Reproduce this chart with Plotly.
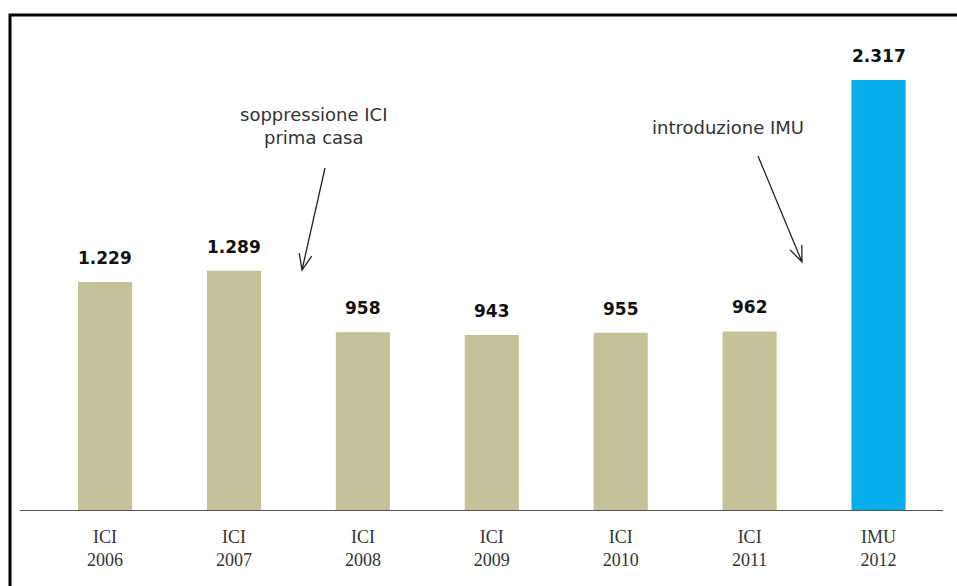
import numpy as np
import plotly.graph_objects as go

categories = ['ICI 2006', 'ICI 2007', 'ICI 2008', 'ICI 2009', 'ICI 2010', 'ICI 2011', 'IMU 2012']
tick_labels = ['ICI<br>2006', 'ICI<br>2007', 'ICI<br>2008', 'ICI<br>2009', 'ICI<br>2010', 'ICI<br>2011', 'IMU<br>2012']
gettito = [1229, 1289, 958, 943, 955, 962, 2317]
value_labels = ['1.229', '1.289', '958', '943', '955', '962', '2.317']
bar_colors = ['#c5c29a'] * 6 + ['#0aaeea']

W, H = 957, 586
L, R, T, B = 20, 14, 20, 76
X_RANGE = [-0.66, 6.5]
Y_RANGE = [0, 2640]
pw, ph = W - L - R, H - T - B


def to_data(px, py):
    # px, py measured on the reference picture
    x = X_RANGE[0] + (px - L) / pw * (X_RANGE[1] - X_RANGE[0])
    y = Y_RANGE[0] + (H - B - py) / ph * (Y_RANGE[1] - Y_RANGE[0])
    return x, y


def arrow_path(tail, head, wing=17, spread=22):
    # open "V" arrow, built in pixel space then mapped to axis units
    tx, ty = tail
    hx, hy = head
    ang = np.arctan2(ty - hy, tx - hx)
    pts = [tail, head]
    for s in (-1, 1):
        a = ang + np.radians(spread) * s
        pts.append((hx + wing * np.cos(a), hy + wing * np.sin(a)))
    d = [to_data(*p) for p in pts]
    return (f"M {d[0][0]},{d[0][1]} L {d[1][0]},{d[1][1]} "
            f"M {d[2][0]},{d[2][1]} L {d[1][0]},{d[1][1]} L {d[3][0]},{d[3][1]}")


fig = go.Figure(go.Bar(
    x=list(range(len(categories))),
    y=gettito,
    width=0.42,
    marker=dict(color=bar_colors, line=dict(width=0)),
    hovertext=categories,
))

for i, (v, lab) in enumerate(zip(gettito, value_labels)):
    fig.add_annotation(x=i, y=v, text=f"<b>{lab}</b>", showarrow=False,
                       yanchor='bottom', yshift=12,
                       font=dict(family='DejaVu Sans', size=17, color='#111'))

note_font = dict(family='DejaVu Sans', size=18, color='#333')
x1, y1 = to_data(313, 126)
fig.add_annotation(x=x1, y=y1, text='soppressione ICI<br>prima casa', showarrow=False,
                   font=note_font, align='center')
x2, y2 = to_data(728, 127)
fig.add_annotation(x=x2, y=y2, text='introduzione IMU', showarrow=False, font=note_font)

for tail, head in [((325, 168), (302, 270)), ((758, 156), (802, 262))]:
    fig.add_shape(type='path', xref='x', yref='y', path=arrow_path(tail, head),
                  line=dict(color='#222', width=1.3))

# outer frame of the original graphic
fig.add_shape(type='rect', xref='paper', yref='paper',
              x0=(10 - L) / pw, x1=1.6, y0=-0.6, y1=(H - B - 15) / ph,
              line=dict(color='black', width=3))

fig.update_layout(
    width=W, height=H,
    margin=dict(l=L, r=R, t=T, b=B),
    paper_bgcolor='white', plot_bgcolor='white',
    showlegend=False,
    xaxis=dict(range=X_RANGE, tickmode='array', tickvals=list(range(len(categories))),
               ticktext=tick_labels, showgrid=False, zeroline=False,
               showline=True, linecolor='#555', linewidth=1, ticks='',
               ticklabelstandoff=10,
               tickfont=dict(family='Liberation Serif', size=18, color='#333')),
    yaxis=dict(range=Y_RANGE, visible=False, showgrid=False, zeroline=False),
)

fig.write_html("out.html", config={'displayModeBar': False},
               post_script="document.body.style.margin='0';document.body.style.overflow='hidden';")
